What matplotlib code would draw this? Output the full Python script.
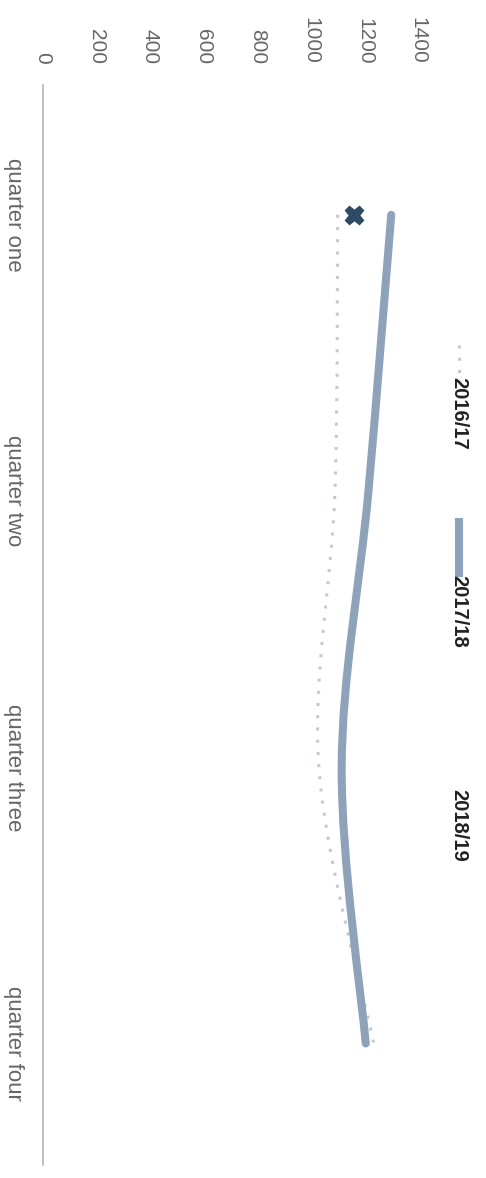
import numpy as np
import matplotlib
matplotlib.use('Agg')
import matplotlib.pyplot as plt
from matplotlib.path import Path
from matplotlib.patches import PathPatch
from matplotlib.lines import Line2D

quarters = ['quarter one', 'quarter two', 'quarter three', 'quarter four']
fy_2016_17 = [1100, 1090, 1030, 1235]
fy_2017_18 = [1300, 1215, 1115, 1205]
fy_2018_19 = [1160]
value_ticks = [0, 200, 400, 600, 800, 1000, 1200, 1400]

plt.rcParams['font.family'] = ['Liberation Sans', 'DejaVu Sans']

W, H = 486, 1178


def smooth_path(values):
    # the chart is turned on its side: value on x, quarter index on y
    pts = np.column_stack([values, np.arange(len(values))]).astype(float)
    ext = np.vstack([pts[0], pts, pts[-1]])
    verts = [pts[0]]
    codes = [Path.MOVETO]
    for i in range(len(pts) - 1):
        p0, p1, p2, p3 = ext[i], ext[i + 1], ext[i + 2], ext[i + 3]
        verts += [p1 + (p2 - p0) / 6, p2 - (p3 - p1) / 6, p2]
        codes += [Path.CURVE4] * 3
    return Path(verts, codes)


fig = plt.figure(figsize=(W / 100, H / 100), dpi=100)
ax = fig.add_axes([43 / W, 13 / H, 375 / W, 1080 / H])

ax.add_patch(PathPatch(smooth_path(fy_2016_17), fill=False, color='#c3c9d3',
                       lw=2.2, ls=(0, (1, 3))))
ax.add_patch(PathPatch(smooth_path(fy_2017_18), fill=False, color='#8ea3ba',
                       lw=5.8, capstyle='round'))
ax.plot(fy_2018_19, range(len(fy_2018_19)), ls='none', marker='X', ms=13,
        color='#2f4a63', mec='#2f4a63')

ax.set_xlim(0, 1400)
ax.set_ylim(3.44, -0.47)
for s in ['top', 'right', 'bottom']:
    ax.spines[s].set_visible(False)
ax.spines['left'].set_color('#b5b5b5')
ax.spines['left'].set_linewidth(1.2)

ax.set_xticks(value_ticks)
ax.set_xticklabels([str(v) for v in value_ticks], rotation=-90,
                   rotation_mode='default', ha='center', va='bottom')
ax.xaxis.tick_top()
ax.tick_params(axis='x', length=0, pad=15, labelsize=15, labelcolor='#666666')
ax.set_yticks(range(len(quarters)))
ax.set_yticklabels(quarters, rotation=-90, rotation_mode='default',
                   ha='right', va='center')
ax.tick_params(axis='y', length=0, pad=14, labelsize=16, labelcolor='#666666')

# legend, laid out by hand so it runs down the right side
lx = 459 / W
fig.add_artist(Line2D([lx, lx], [1 - 345 / H, 1 - 377 / H], color='#c3c9d3',
                      lw=2.2, ls=(0, (1, 3)), transform=fig.transFigure))
fig.text(lx, 1 - 413 / H, '2016/17', rotation=-90, ha='center', va='center',
         fontsize=14.5, fontweight='bold', color='#222222')
fig.add_artist(Line2D([lx, lx], [1 - 522 / H, 1 - 573 / H], color='#8ea3ba',
                      lw=5.8, transform=fig.transFigure))
fig.text(lx, 1 - 611 / H, '2017/18', rotation=-90, ha='center', va='center',
         fontsize=14.5, fontweight='bold', color='#222222')
fig.text(lx, 1 - 825 / H, '2018/19', rotation=-90, ha='center', va='center',
         fontsize=14.5, fontweight='bold', color='#222222')

fig.savefig('out.png', dpi=100)
